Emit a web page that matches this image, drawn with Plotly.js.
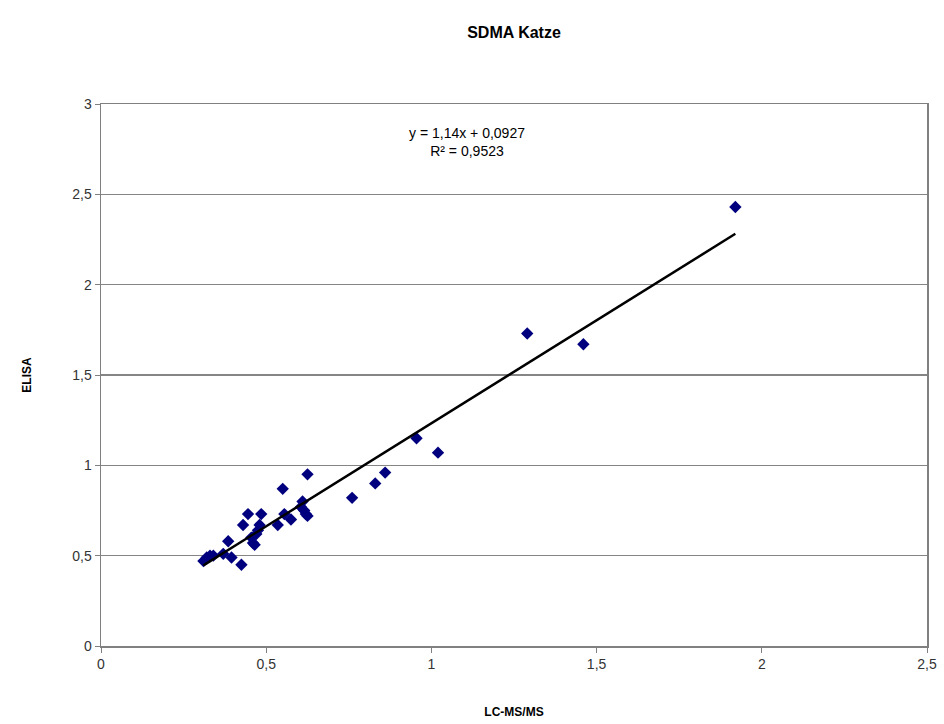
<!DOCTYPE html>
<html>
<head>
<meta charset="utf-8">
<script src="https://cdn.plot.ly/plotly-3.0.1.min.js"></script>
<style>html,body{margin:0;padding:0;background:#fff;}#chart{width:944px;height:724px;}</style>
</head>
<body>
<div id="chart"></div>
<script>
const lcms = [0.31,0.32,0.33,0.34,0.37,0.385,0.395,0.425,0.43,0.445,0.455,0.46,0.465,0.47,0.475,0.48,0.485,0.535,0.55,0.555,0.575,0.605,0.61,0.615,0.62,0.625,0.625,0.76,0.83,0.86,0.955,1.02,1.29,1.46,1.92];
const elisa = [0.47,0.49,0.50,0.50,0.51,0.58,0.49,0.45,0.67,0.73,0.60,0.57,0.56,0.62,0.64,0.67,0.73,0.67,0.87,0.73,0.70,0.77,0.80,0.75,0.73,0.72,0.95,0.82,0.90,0.96,1.15,1.07,1.73,1.67,2.43];
const slope = 1.14, intercept = 0.0927;
const eqText = "y = 1,14x + 0,0927<br>R² = 0,9523";

const xMin = Math.min(...lcms), xMax = Math.max(...lcms);
const trendX = [xMin, xMax];
const trendY = trendX.map(v => slope * v + intercept);

const data = [
  {x: lcms, y: elisa, type: 'scatter', mode: 'markers',
   marker: {symbol: 'diamond', color: '#00007f', size: 9.5}, showlegend: false},
  {x: trendX, y: trendY, type: 'scatter', mode: 'lines',
   line: {color: '#000000', width: 2.5}, showlegend: false}
];

const layout = {
  width: 944, height: 724,
  margin: {l: 101, r: 17, t: 104, b: 78},
  paper_bgcolor: '#ffffff', plot_bgcolor: '#ffffff',
  separators: ',.',
  font: {family: 'Liberation Sans, Arial, sans-serif', color: '#000'},
  title: {text: '<b>SDMA Katze</b>', x: 0.5445, xanchor: 'center', y: 0.955, yanchor: 'middle',
          font: {size: 16, color: '#000'}},
  xaxis: {range: [0, 2.5], dtick: 0.5, tick0: 0, showgrid: false, zeroline: false,
          showline: true, linecolor: '#808080', linewidth: 1.5, mirror: true,
          ticks: 'outside', ticklen: 5, tickcolor: '#808080',
          tickfont: {size: 14, color: '#333'},
          title: {text: '<b>LC-MS/MS</b>', font: {size: 12, color: '#000'}, standoff: 36}},
  yaxis: {range: [0, 3], dtick: 0.5, tick0: 0, showgrid: true, gridcolor: '#858585', gridwidth: 1.5,
          zeroline: false, showline: true, linecolor: '#808080', linewidth: 1.5, mirror: true,
          ticks: 'outside', ticklen: 5, tickcolor: '#808080',
          tickfont: {size: 14, color: '#333'},
          title: {text: '<b>ELISA</b>', font: {size: 12, color: '#000'}, standoff: 38}},
  annotations: [{text: eqText, xref: 'paper', yref: 'paper', x: 0.443, y: 0.93,
                 xanchor: 'center', yanchor: 'middle', showarrow: false,
                 font: {size: 14, color: '#000'}, align: 'center'}]
};

Plotly.newPlot('chart', data, layout, {displayModeBar: false, staticPlot: true});
</script>
</body>
</html>
